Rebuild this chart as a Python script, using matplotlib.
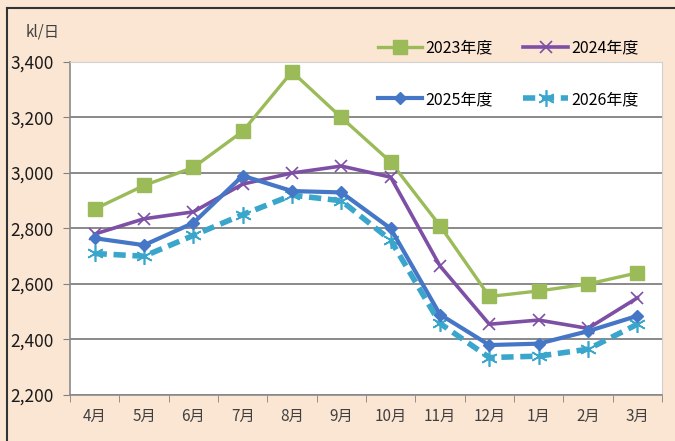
import matplotlib.pyplot as plt
from matplotlib.lines import Line2D
import numpy as np

plt.rcParams['font.family'] = ['Noto Sans CJK JP', 'DejaVu Sans']

months = ['4月', '5月', '6月', '7月', '8月', '9月', '10月', '11月', '12月', '1月', '2月', '3月']
fy2023 = [2870, 2955, 3020, 3150, 3365, 3200, 3040, 2810, 2555, 2575, 2600, 2640]
fy2024 = [2780, 2835, 2860, 2960, 3000, 3025, 2985, 2665, 2455, 2470, 2440, 2550]
fy2025 = [2765, 2740, 2820, 2990, 2935, 2930, 2800, 2490, 2380, 2385, 2430, 2485]
fy2026 = [2710, 2700, 2775, 2850, 2920, 2900, 2758, 2458, 2335, 2340, 2365, 2455]
yticks = [2200, 2400, 2600, 2800, 3000, 3200, 3400]

bg = '#fbe6d4'
fig = plt.figure(figsize=(6.75, 4.41), dpi=100)
fig.patch.set_facecolor(bg)
ax = fig.add_axes([70 / 675, 1 - 395 / 441, 592 / 675, 333 / 441])
ax.set_facecolor('white')

x = np.arange(len(months))
l23, = ax.plot(x, fy2023, color='#9bbb59', lw=2.4, marker='s', ms=10, label='2023年度', zorder=3)
l24, = ax.plot(x, fy2024, color='#7d4fa5', lw=2.6, marker='x', ms=9, mew=1.2, label='2024年度', zorder=4)
l25, = ax.plot(x, fy2025, color='#4577c6', lw=3.0, marker='D', ms=6, label='2025年度', zorder=5)
l26, = ax.plot(x, fy2026, color='#3aa6cc', lw=4.0, ls=(0, (2.2, 1.2)), marker=(6, 2, 0), ms=12,
               mew=1.2, label='2026年度', zorder=2)

ax.set_xlim(-0.5, len(months) - 0.5)
ax.set_ylim(2200, 3400)
ax.set_yticks(yticks)
ax.set_yticklabels([f'{v:,}' for v in yticks], fontsize=12.5, color='#1a1a1a')
ax.set_xticks(x)
ax.set_xticklabels(months, fontsize=11, color='#404040')
ax.tick_params(axis='x', length=0, pad=9)
ax.set_xticks(np.arange(-0.5, len(months), 1), minor=True)
ax.tick_params(axis='x', which='minor', length=5, color='#808080')
ax.tick_params(axis='y', length=5, color='#808080', pad=7)
ax.grid(axis='y', color='#808080', lw=1.3, zorder=0)

for s in ['top', 'right']:
    ax.spines[s].set_color('#d0d0d0')
for s in ['left', 'bottom']:
    ax.spines[s].set_color('#8a8a8a')
    ax.spines[s].set_linewidth(1.2)

# column-wise fill: 2023/2025 in first column, 2024/2026 in second
ax.legend(handles=[l23, l25, l24, l26], ncol=2, frameon=False, loc='upper right',
          bbox_to_anchor=(0.985, 1.11), fontsize=11.5, labelspacing=2.15,
          columnspacing=1.9, handlelength=2.8, handletextpad=0.2)

fig.text(26 / 675, 1 - 32 / 441, 'kl/日', fontsize=11, color='#404040', va='center')

fig.add_artist(Line2D([7 / 675, 7 / 675], [0, 1 - 8 / 441], color='#333333', lw=1.5))
fig.add_artist(Line2D([7 / 675, 1], [1 - 8 / 441, 1 - 8 / 441], color='#333333', lw=1.5))

fig.savefig('out.png', dpi=100, facecolor=bg)
